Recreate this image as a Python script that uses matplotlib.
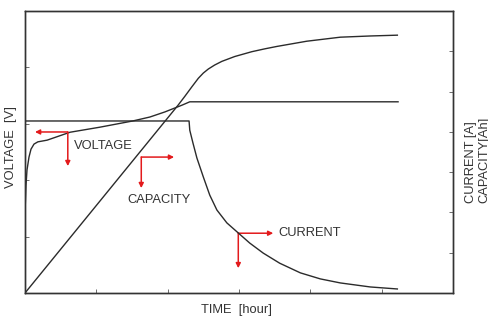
import matplotlib
matplotlib.use("Agg")
import matplotlib.pyplot as plt

plt.rcParams['font.family'] = ['Liberation Sans', 'DejaVu Sans']

# Time axis (arbitrary units, 0..6)
# Voltage curve (left axis, 0..5)
volt_t = [0.0, 0.007, 0.014, 0.028, 0.056, 0.084, 0.126, 0.18, 0.31, 0.63, 1.05, 1.51, 1.75, 1.96, 2.20, 2.31, 5.23]
volt_v = [1.45, 1.65, 1.91, 2.18, 2.41, 2.55, 2.64, 2.68, 2.71, 2.85, 2.94, 3.05, 3.12, 3.21, 3.33, 3.39, 3.39]

# Current curve (right axis, 0..7)
curr_t = [0.0, 2.30, 2.31, 2.355, 2.41, 2.50, 2.59, 2.69, 2.83, 2.99, 3.15, 3.34, 3.57, 3.86, 4.14, 4.42, 4.84, 5.22]
curr_v = [4.27, 4.27, 4.04, 3.72, 3.35, 2.88, 2.43, 2.06, 1.74, 1.49, 1.24, 0.99, 0.74, 0.50, 0.35, 0.25, 0.15, 0.10]

# Capacity curve (right axis, 0..7)
cap_t = [0.0, 2.145, 2.24, 2.34, 2.43, 2.50, 2.57, 2.66, 2.76, 2.94, 3.18, 3.36, 3.53, 3.95, 4.42, 4.84, 5.22]
cap_v = [0.0, 4.66, 4.88, 5.12, 5.33, 5.46, 5.56, 5.66, 5.75, 5.87, 5.99, 6.06, 6.12, 6.25, 6.35, 6.38, 6.40]

# Annotation arrows: (label, corner, horizontal end x, vertical end y, text pos) in (time, left-axis) units
annotations = [
    ("VOLTAGE", (0.60, 2.855), 0.14, 2.25, (0.69, 2.61)),
    ("CAPACITY", (1.63, 2.41), 2.09, 1.86, (1.44, 1.65)),
    ("CURRENT", (2.99, 1.06), 3.48, 0.44, (3.55, 1.06)),
]

W, H = 489, 322
fig = plt.figure(figsize=(W / 100, H / 100), dpi=100)
ax = fig.add_axes([25 / W, 1 - 293 / H, (453 - 25) / W, (293 - 11) / H])
ax2 = ax.twinx()

line_col = '#2b2b2b'
red = '#e31a1c'

ax.plot(volt_t, volt_v, color=line_col, lw=1.0)
ax2.plot(curr_t, curr_v, color=line_col, lw=1.0)
ax2.plot(cap_t, cap_v, color=line_col, lw=1.0)

ax.set_xlim(0, 6)
ax.set_ylim(0, 5)
ax2.set_ylim(0, 7)

ax.set_xticks([1, 2, 3, 4, 5])
ax.set_yticks([1, 2, 3, 4])
ax2.set_yticks([1, 2, 3, 4, 5, 6])
for a in (ax, ax2):
    a.tick_params(direction='in', length=3, width=0.6, color='#555555',
                  labelbottom=False, labelleft=False, labelright=False)
    for s in a.spines.values():
        s.set_color('#333333')
        s.set_linewidth(1.0)

for label, corner, hx, vy, tpos in annotations:
    ax.annotate('', xy=(hx, corner[1]), xytext=corner,
                arrowprops=dict(arrowstyle='-|>', color=red, lw=1.1,
                                mutation_scale=7, shrinkA=0, shrinkB=0))
    ax.annotate('', xy=(corner[0], vy), xytext=corner,
                arrowprops=dict(arrowstyle='-|>', color=red, lw=1.1,
                                mutation_scale=7, shrinkA=0, shrinkB=0))
    ax.text(tpos[0], tpos[1], label, ha='left', va='center', fontsize=9.3, color='#333333')

fig.text(236 / W, 1 - 310 / H, 'TIME  [hour]', ha='center', va='center', fontsize=9.3, color='#333333')
fig.text(11 / W, 1 - 147 / H, 'VOLTAGE  [V]', ha='center', va='center', rotation=90, fontsize=9.3, color='#333333')
fig.text(465 / W, 1 - 203 / H, 'CURRENT [A]\nCAPACITY[Ah]', ha='left', va='bottom', rotation=90,
         fontsize=9.3, color='#333333', multialignment='left', linespacing=1.15)

fig.savefig('out.png', dpi=100)
